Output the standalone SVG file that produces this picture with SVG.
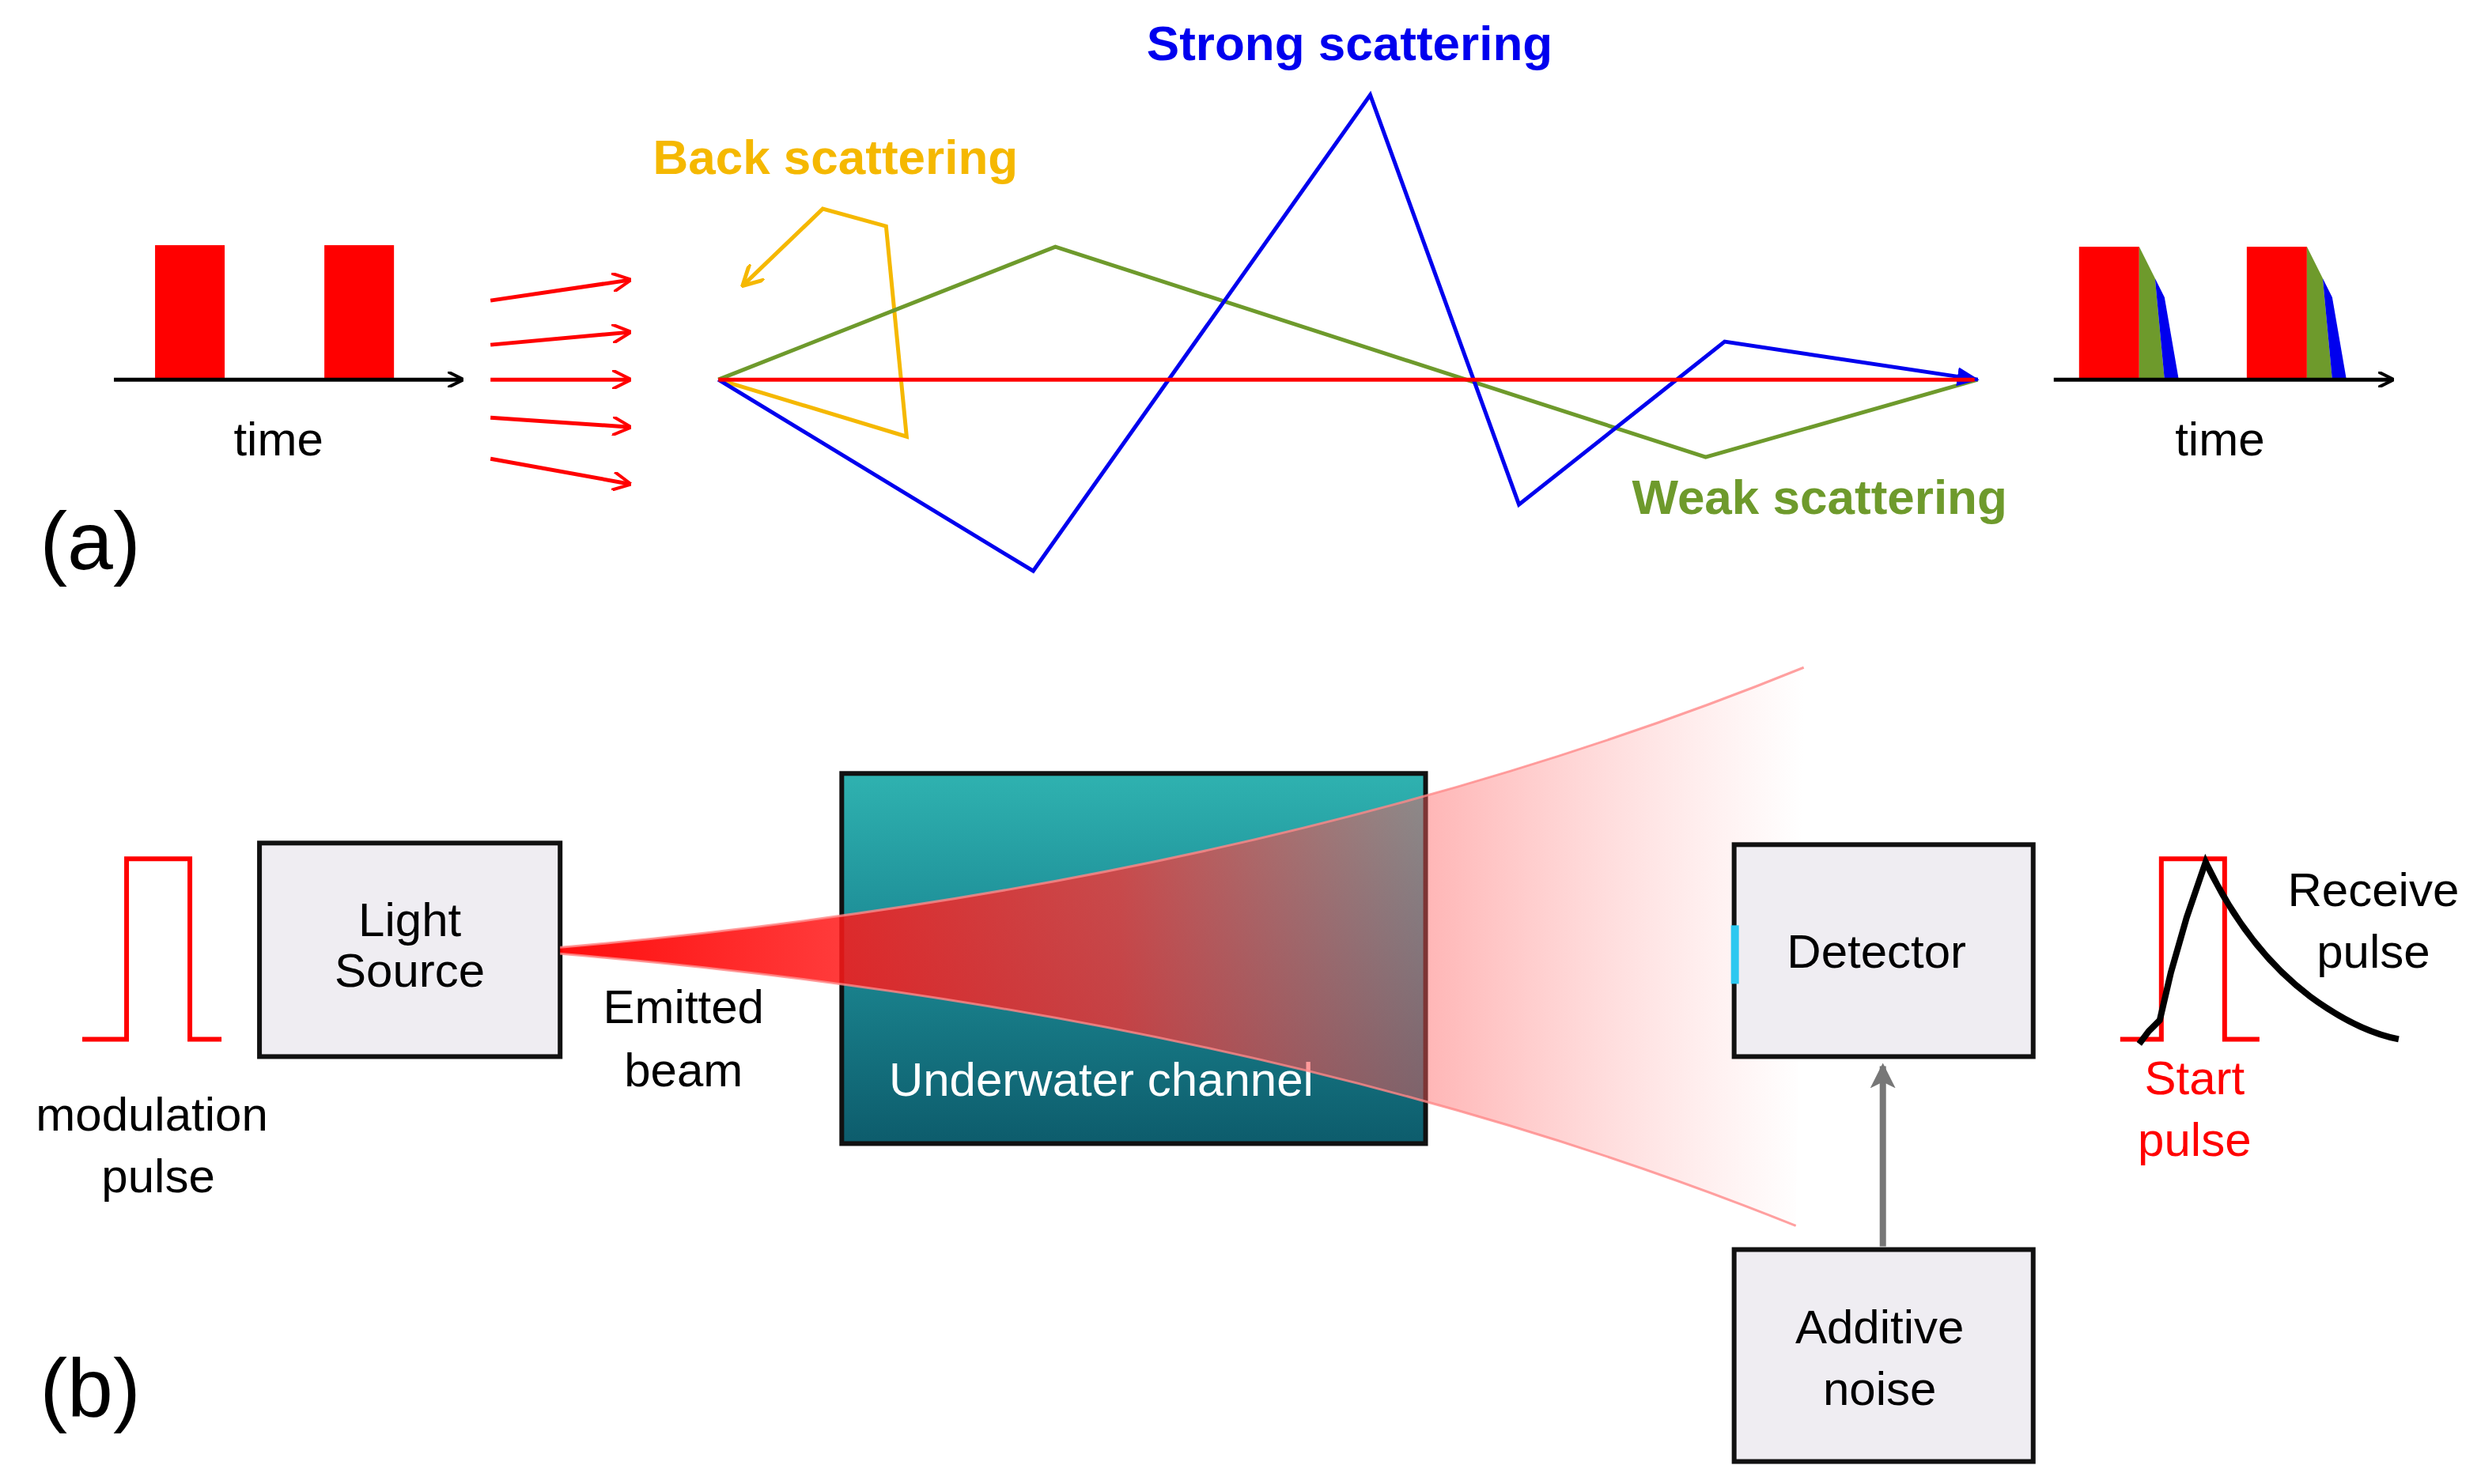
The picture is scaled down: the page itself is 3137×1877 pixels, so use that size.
<svg xmlns="http://www.w3.org/2000/svg" width="3137" height="1877" viewBox="0 0 3137 1877">
<style>
text{font-family:"Liberation Sans",Arial,sans-serif;font-size:30px;text-anchor:middle}
.box{fill:#efedf2;stroke:#111;stroke-width:3}
.ax{stroke:#000;stroke-width:2.5;fill:none}
.ray{fill:none;stroke-width:2.5}
</style>
<defs>
<marker id="ab" markerWidth="10" markerHeight="10" refX="9" refY="5" orient="auto" markerUnits="userSpaceOnUse"><path d="M0,0 L10,5 L0,10" fill="none" stroke="#000" stroke-width="2"/></marker>
<marker id="ar" markerWidth="12" markerHeight="12" refX="11" refY="6" orient="auto" markerUnits="userSpaceOnUse"><path d="M0,0 L12,6 L0,12" fill="none" stroke="#f00" stroke-width="2"/></marker>
<marker id="ay" markerWidth="14" markerHeight="14" refX="12" refY="7" orient="auto" markerUnits="userSpaceOnUse"><path d="M0,0 L13,7 L0,14" fill="none" stroke="#f5b800" stroke-width="2.5"/></marker>
<marker id="abl" markerWidth="14" markerHeight="12" refX="13" refY="6" orient="auto" markerUnits="userSpaceOnUse"><path d="M0,0 L14,6 L0,12z" fill="#0000ee"/></marker>
<marker id="ag" markerWidth="16" markerHeight="16" refX="14" refY="8" orient="auto" markerUnits="userSpaceOnUse"><path d="M0,0 L16,8 L0,16 L4,8z" fill="#777"/></marker>
<linearGradient id="beam" x1="0" y1="0" x2="1" y2="0"><stop offset="0" stop-color="#f00" stop-opacity="0.95"/><stop offset="0.45" stop-color="#ff3030" stop-opacity="0.75"/><stop offset="0.7" stop-color="#ff6060" stop-opacity="0.45"/><stop offset="1" stop-color="#ff8080" stop-opacity="0"/></linearGradient>
<linearGradient id="water" x1="0" y1="0" x2="0" y2="1"><stop offset="0" stop-color="#2fb2b0"/><stop offset="0.4" stop-color="#1e8f98"/><stop offset="1" stop-color="#0d5c6c"/></linearGradient>
</defs>
<g transform="scale(2.0006)">
<g id="pulses-in">
<rect x="98" y="155" width="44" height="85" fill="#f00"/>
<rect x="205" y="155" width="44" height="85" fill="#f00"/>
<line class="ax" x1="72" y1="240" x2="292" y2="240" marker-end="url(#ab)"/>
<text x="176" y="288">time</text>
</g>
<g id="pulses-out">
<rect x="1314" y="156" width="38" height="84" fill="#f00"/>
<polygon points="1352,156 1362,176 1368,240 1352,240" fill="#6e9a2c"/>
<polygon points="1362,176 1368,188 1377,240 1368,240" fill="#0000ee"/>
<rect x="1420" y="156" width="38" height="84" fill="#f00"/>
<polygon points="1458,156 1468,176 1474,240 1458,240" fill="#6e9a2c"/>
<polygon points="1468,176 1474,188 1483,240 1474,240" fill="#0000ee"/>
<line class="ax" x1="1298" y1="240" x2="1512" y2="240" marker-end="url(#ab)"/>
<text x="1403" y="288">time</text>
</g>
<g id="connectors">
<g stroke="#f00" stroke-width="2.5">
<line x1="310" y1="190" x2="398" y2="177" marker-end="url(#ar)"/>
<line x1="310" y1="218" x2="398" y2="210" marker-end="url(#ar)"/>
<line x1="310" y1="240" x2="398" y2="240" marker-end="url(#ar)"/>
<line x1="310" y1="264" x2="398" y2="270" marker-end="url(#ar)"/>
<line x1="310" y1="290" x2="398" y2="306" marker-end="url(#ar)"/>
</g>
<polyline class="ray" stroke="#f5b800" points="454,240 573,276 560,143 520,132 470,180" marker-end="url(#ay)"/>
<polyline class="ray" stroke="#6e9a2c" points="454,240 667,156 1078,289 1250,240"/>
<polyline class="ray" stroke="#0000ee" points="454,240 653,361 866,60 960,319 1090,216 1250,240" marker-end="url(#abl)"/>
<line x1="454" y1="240" x2="1248" y2="240" stroke="#f00" stroke-width="2.5"/>
<line x1="1190" y1="788" x2="1190" y2="674" stroke="#777" stroke-width="4" marker-end="url(#ag)"/>
</g>
<text x="853" y="38" fill="#0000ee" style="font-size:31px;font-weight:bold">Strong scattering</text>
<text x="528" y="110" fill="#f5b800" style="font-size:31px;font-weight:bold">Back scattering</text>
<text x="1150" y="325" fill="#6e9a2c" style="font-size:31px;font-weight:bold">Weak scattering</text>
<text x="57" y="360" style="font-size:52px">(a)</text>
<text x="57" y="895" style="font-size:52px">(b)</text>
<g id="modulation">
<polyline fill="none" stroke="#f00" stroke-width="3" points="52,657 80,657 80,543 120,543 120,657 140,657"/>
<text x="96" y="715">modulation</text>
<text x="100" y="754">pulse</text>
</g>
<g id="light-source">
<rect class="box" x="164" y="533" width="190" height="135"/>
<text x="259" y="592">Light</text>
<text x="259" y="624">Source</text>
</g>
<text x="432" y="647">Emitted</text>
<text x="432" y="687">beam</text>
<g id="channel">
<rect x="532" y="489" width="369" height="234" fill="url(#water)" stroke="#111" stroke-width="3"/>
<text x="696" y="693" fill="#fff">Underwater channel</text>
</g>
<g id="beam">
<path d="M354,599 Q800,560 1140,422 L1135,775 Q800,640 354,603 Z" fill="url(#beam)"/>
<path d="M354,599 Q800,560 1140,422 M354,603 Q800,640 1135,775" fill="none" stroke="#f88" stroke-width="1.5" opacity="0.8"/>
</g>
<g id="detector">
<rect class="box" x="1096" y="534" width="189" height="134"/>
<rect x="1094" y="585" width="5" height="37" fill="#2cc8f0"/>
<text x="1186" y="612">Detector</text>
</g>
<g id="noise">
<rect class="box" x="1096" y="790" width="189" height="134"/>
<text x="1188" y="849">Additive</text>
<text x="1188" y="888">noise</text>
</g>
<g id="pulses-b">
<polyline fill="none" stroke="#f00" stroke-width="3" points="1340,657 1366,657 1366,543 1406,543 1406,657 1428,657"/>
<path d="M1352,660 L1358,652 L1365,645 L1372,615 L1382,580 L1394,545 Q1420,600 1460,630 Q1490,652 1516,657" fill="none" stroke="#000" stroke-width="4"/>
<text x="1387" y="692" fill="#f00">Start</text>
<text x="1387" y="731" fill="#f00">pulse</text>
<text x="1500" y="573">Receive</text>
<text x="1500" y="612">pulse</text>
</g>
</g>
</svg>
